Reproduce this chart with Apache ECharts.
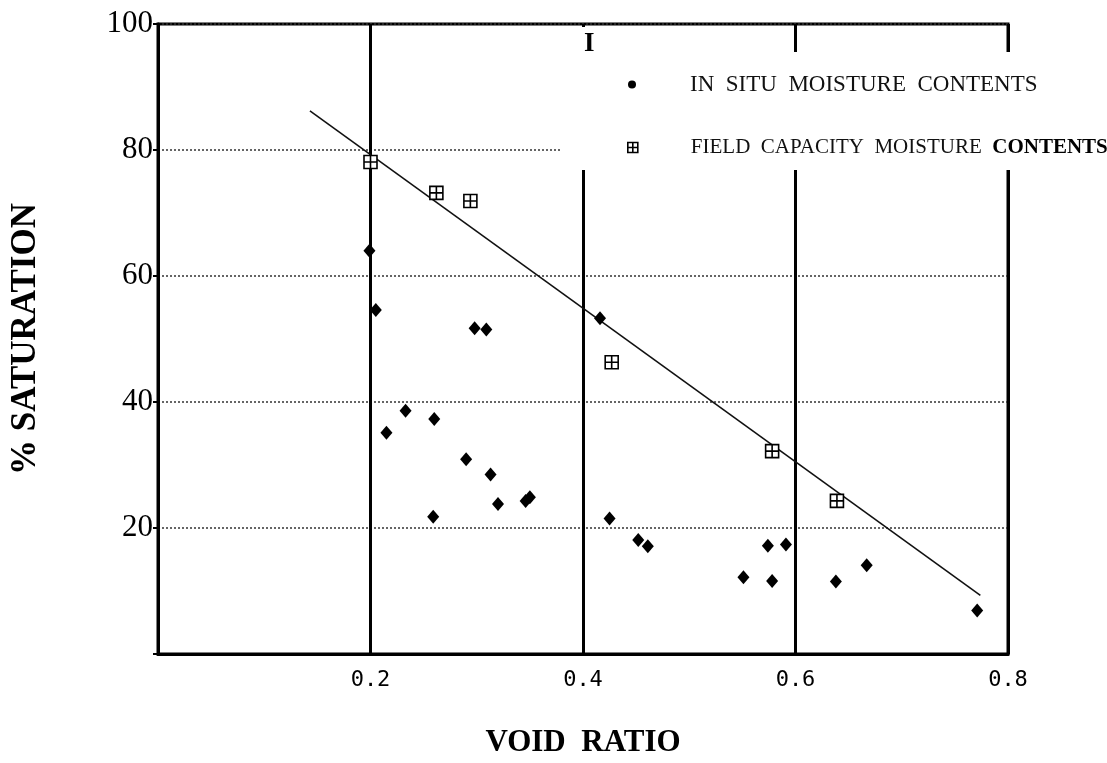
<!DOCTYPE html>
<html>
<head>
<meta charset="utf-8">
<script src="https://cdn.jsdelivr.net/npm/echarts@6/dist/echarts.min.js"></script>
<style>
html,body{margin:0;padding:0;background:#fff;}
#chart{width:1107px;height:763px;}
</style>
</head>
<body>
<div id="chart"></div>
<script>
// ---- data ----
const xTickLabels = ['', '0.2', '0.4', '0.6', '0.8'];
const yTickLabels = ['', '20', '40', '60', '80', '100'];

const inSituX = [0.199, 0.205, 0.215, 0.233, 0.260, 0.298, 0.309, 0.290, 0.313, 0.259, 0.320, 0.346, 0.350, 0.416, 0.425, 0.452, 0.461, 0.551, 0.574, 0.578, 0.591, 0.638, 0.667, 0.771];
const inSituY = [64.0, 54.6, 35.1, 38.6, 37.3, 51.7, 51.5, 30.9, 28.5, 21.8, 23.8, 24.3, 24.9, 53.3, 21.5, 18.1, 17.1, 12.2, 17.2, 11.6, 17.4, 11.5, 14.1, 6.9];

const fieldX = [0.200, 0.262, 0.294, 0.427, 0.578, 0.639];
const fieldY = [78.1, 73.2, 71.9, 46.3, 32.2, 24.3];

const fitX = [0.143, 0.774];
const fitY = [86.2, 9.3];

const nameInSitu = 'IN SITU MOISTURE CONTENTS';
const nameField = 'FIELD CAPACITY MOISTURE CONTENTS';

// ---- build ----
const zip = (a, b) => a.map((v, i) => [v, b[i]]);
const crossSquare = 'path://M0,0H10V10H0Z M5,0V10 M0,5H10';
const serif = 'Liberation Serif';
const wide = s => s.replace(/ /g, '  ');

const chart = echarts.init(document.getElementById('chart'), null, {renderer: 'canvas'});
chart.setOption({
  backgroundColor: '#fff',
  animation: false,
  grid: {
    left: 158, right: 99, top: 24, bottom: 109,
    show: true, borderColor: '#000', borderWidth: 3, backgroundColor: 'transparent'
  },
  xAxis: {
    type: 'value', min: 0, max: 0.8, interval: 0.2,
    name: 'VOID  RATIO', nameLocation: 'middle', nameGap: 73,
    nameTextStyle: {fontFamily: serif, fontWeight: 'bold', fontSize: 31, color: '#000'},
    axisLine: {show: true, onZero: false, lineStyle: {color: '#000', width: 3}},
    axisTick: {show: false},
    axisLabel: {
      margin: 15, color: '#000', fontFamily: 'DejaVu Sans Mono', fontSize: 22,
      formatter: v => xTickLabels[Math.round(v / 0.2)] || ''
    },
    splitLine: {show: true, lineStyle: {color: '#000', width: 3, type: 'solid'}}
  },
  yAxis: {
    type: 'value', min: 0, max: 100, interval: 20,
    name: '% SATURATION', nameLocation: 'middle', nameGap: 115, nameRotate: 90,
    nameTextStyle: {fontFamily: serif, fontWeight: 'bold', fontSize: 35, color: '#000'},
    axisLine: {show: true, onZero: false, lineStyle: {color: '#000', width: 3}},
    axisTick: {show: true, inside: false, length: 5, lineStyle: {color: '#000', width: 2}},
    axisLabel: {
      margin: 5, color: '#000', fontFamily: serif, fontSize: 31,
      formatter: v => yTickLabels[Math.round(v / 20)] || ''
    },
    splitLine: {show: true, lineStyle: {color: '#333', width: 1.5, type: [2, 2]}}
  },
  legend: [
    {
      data: [{name: nameInSitu, icon: 'circle'}],
      left: 628, top: 73, itemWidth: 8, itemHeight: 8,
      selectedMode: false, padding: 0,
      itemStyle: {color: '#000'},
      formatter: n => '{s|}{n|' + wide(n) + '}',
      textStyle: {
        fontFamily: serif, fontSize: 23, color: '#111',
        rich: {
          s: {width: 49, height: 26},
          n: {fontFamily: serif, fontSize: 23, color: '#111', lineHeight: 26}
        }
      }
    },
    {
      data: [{name: nameField, icon: crossSquare}],
      left: 627, top: 137, itemWidth: 10, itemHeight: 10,
      selectedMode: false, padding: 0,
      itemStyle: {color: '#fff', borderColor: '#000', borderWidth: 1.6},
      formatter: n => {
        const w = n.split(' ');
        const last = w.pop();
        return '{s|}{n|' + w.join('  ') + '}  {b|' + last + '}';
      },
      textStyle: {
        fontFamily: serif, fontSize: 21, color: '#111',
        rich: {
          s: {width: 48, height: 26},
          n: {fontFamily: serif, fontSize: 21, color: '#111', lineHeight: 26},
          b: {fontFamily: serif, fontSize: 21, color: '#000', fontWeight: 'bold', lineHeight: 26}
        }
      }
    }
  ],
  graphic: {
    elements: [
      {type: 'rect', z: 3, shape: {x: 562, y: 52, width: 545, height: 118}, style: {fill: '#fff'}},
      {type: 'rect', z: 3, shape: {x: 576, y: 27, width: 14, height: 26}, style: {fill: '#fff'}},
      {type: 'text', z: 5, x: 584, y: 31, style: {text: 'I', font: 'bold 27px "Liberation Serif"', fill: '#000'}}
    ]
  },
  series: [
    {
      name: 'fit', type: 'line', data: zip(fitX, fitY),
      showSymbol: false, symbol: 'none', z: 2,
      lineStyle: {color: '#111', width: 1.6}
    },
    {
      name: nameInSitu, type: 'scatter', data: zip(inSituX, inSituY),
      symbol: 'diamond', symbolSize: [12, 14], z: 3,
      itemStyle: {color: '#000', opacity: 1}
    },
    {
      name: nameField, type: 'scatter', data: zip(fieldX, fieldY),
      symbol: crossSquare, symbolSize: 13, z: 3,
      itemStyle: {color: '#fff', borderColor: '#000', borderWidth: 1.6, opacity: 1}
    }
  ]
});
</script>
</body>
</html>
